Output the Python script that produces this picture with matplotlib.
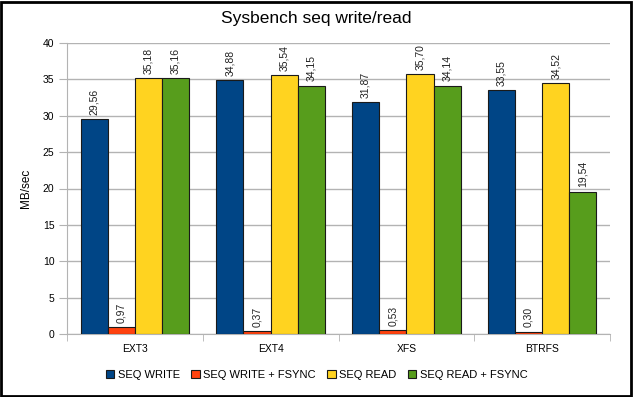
import numpy as np
import matplotlib.pyplot as plt
from matplotlib.patches import Rectangle

# --- Data ---
FILESYSTEMS = ["EXT3", "EXT4", "XFS", "BTRFS"]
SERIES = ["SEQ WRITE", "SEQ WRITE + FSYNC", "SEQ READ", "SEQ READ + FSYNC"]
SEQ_WRITE = [29.56, 34.88, 31.87, 33.55]
SEQ_WRITE_FSYNC = [0.97, 0.37, 0.53, 0.30]
SEQ_READ = [35.18, 35.54, 35.70, 34.52]
SEQ_READ_FSYNC = [35.16, 34.15, 34.14, 19.54]
Y_TICKS = [0, 5, 10, 15, 20, 25, 30, 35, 40]

# LibreOffice default palette
COLORS = ["#004586", "#ff420e", "#ffd320", "#579d1c"]
GRID = "#b3b3b3"

plt.rcParams["font.family"] = ["Liberation Sans", "DejaVu Sans"]


def main():
    fig = plt.figure(figsize=(6.33, 3.97), dpi=100)
    ax = fig.add_axes([67 / 633, 1 - 334 / 397, 543 / 633, 291 / 397])

    values = [SEQ_WRITE, SEQ_WRITE_FSYNC, SEQ_READ, SEQ_READ_FSYNC]
    x = np.arange(len(FILESYSTEMS))
    width = 0.2
    for i, (name, vals) in enumerate(zip(SERIES, values)):
        pos = x + (i - 1.5) * width
        bars = ax.bar(pos, vals, width, color=COLORS[i], edgecolor="#1a1a1a",
                      linewidth=0.8, label=name, zorder=3)
        for b, v in zip(bars, vals):
            ax.text(b.get_x() + b.get_width() / 2, v + 0.6,
                    f"{v:.2f}".replace(".", ","), rotation=90,
                    ha="center", va="bottom", fontsize=7.5, color="#222222")

    ax.set_xlim(-0.5, len(FILESYSTEMS) - 0.5)
    ax.set_ylim(0, 40)
    ax.set_yticks(Y_TICKS)
    ax.set_xticks(x)
    ax.set_xticklabels(FILESYSTEMS)
    ax.set_xticks(np.arange(-0.5, len(FILESYSTEMS)), minor=True)
    ax.tick_params(axis="x", which="major", length=0, pad=7, labelsize=7.5)
    ax.tick_params(axis="x", which="minor", length=5, color=GRID)
    ax.tick_params(axis="y", length=6, color=GRID, labelsize=7.5, pad=3)
    ax.yaxis.grid(True, color=GRID, linewidth=1, zorder=0)
    for s in ["top", "right"]:
        ax.spines[s].set_visible(False)
    for s in ["left", "bottom"]:
        ax.spines[s].set_color(GRID)
    ax.set_ylabel("MB/sec", fontsize=8.5, labelpad=8)

    fig.text(0.5, 1 - 18 / 397, "Sysbench seq write/read", ha="center",
             va="center", fontsize=12.5)

    fig.legend(*ax.get_legend_handles_labels(), loc="center",
               bbox_to_anchor=(0.5, 1 - 375 / 397), ncol=4,
               frameon=False, fontsize=8, handlelength=0.8, handleheight=0.8,
               handletextpad=0.3, columnspacing=1.0)

    fig.patches.append(Rectangle((0.002, 0.003), 0.995, 0.993,
                                 transform=fig.transFigure, fill=False,
                                 edgecolor="black", linewidth=2))
    fig.savefig("out.png", dpi=100)
    plt.close(fig)


if __name__ == "__main__":
    main()
